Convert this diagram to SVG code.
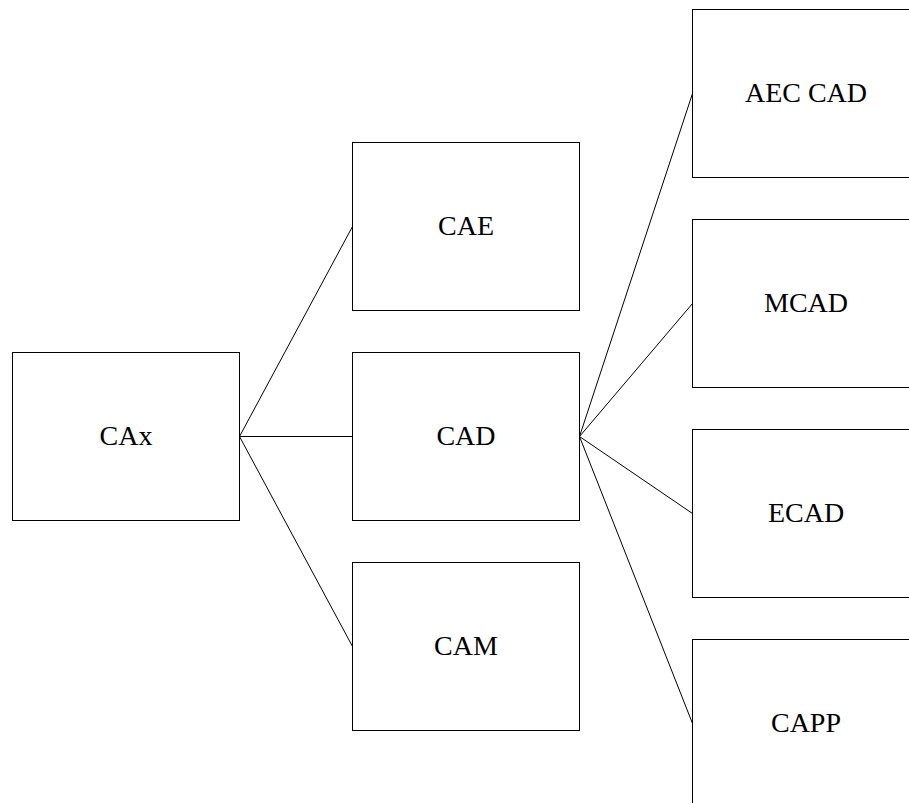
<svg xmlns="http://www.w3.org/2000/svg" width="909" height="803" viewBox="0 0 909 803">
<style>
rect.box{fill:#fff;stroke:#000;stroke-width:1}
text{font-family:"Liberation Serif","Times New Roman",serif;font-size:28px;fill:#000;text-anchor:middle}
.conn line{stroke:#000;stroke-width:1}
</style>
<rect width="909" height="803" fill="#fff"/>
<g id="connectors" class="conn">
<line x1="239.5" y1="436.5" x2="352.5" y2="226.5"/>
<line x1="239.5" y1="436.5" x2="352.5" y2="436.5"/>
<line x1="239.5" y1="436.5" x2="352.5" y2="646.5"/>
<line x1="579.5" y1="436.5" x2="692.5" y2="93.5"/>
<line x1="579.5" y1="436.5" x2="692.5" y2="303.5"/>
<line x1="579.5" y1="436.5" x2="692.5" y2="513.5"/>
<line x1="579.5" y1="436.5" x2="692.5" y2="723.5"/>
</g>
<g id="cax"><rect class="box" x="12.5" y="352.5" width="227" height="168"/><text x="126" y="445">CAx</text></g>
<g id="cae"><rect class="box" x="352.5" y="142.5" width="227" height="168"/><text x="466" y="235">CAE</text></g>
<g id="cad"><rect class="box" x="352.5" y="352.5" width="227" height="168"/><text x="466" y="445">CAD</text></g>
<g id="cam"><rect class="box" x="352.5" y="562.5" width="227" height="168"/><text x="466" y="655">CAM</text></g>
<g id="aeccad"><rect class="box" x="692.5" y="9.5" width="227" height="168"/><text x="806" y="102">AEC CAD</text></g>
<g id="mcad"><rect class="box" x="692.5" y="219.5" width="227" height="168"/><text x="806" y="312">MCAD</text></g>
<g id="ecad"><rect class="box" x="692.5" y="429.5" width="227" height="168"/><text x="806" y="522">ECAD</text></g>
<g id="capp"><rect class="box" x="692.5" y="639.5" width="227" height="168"/><text x="806" y="732">CAPP</text></g>
</svg>
